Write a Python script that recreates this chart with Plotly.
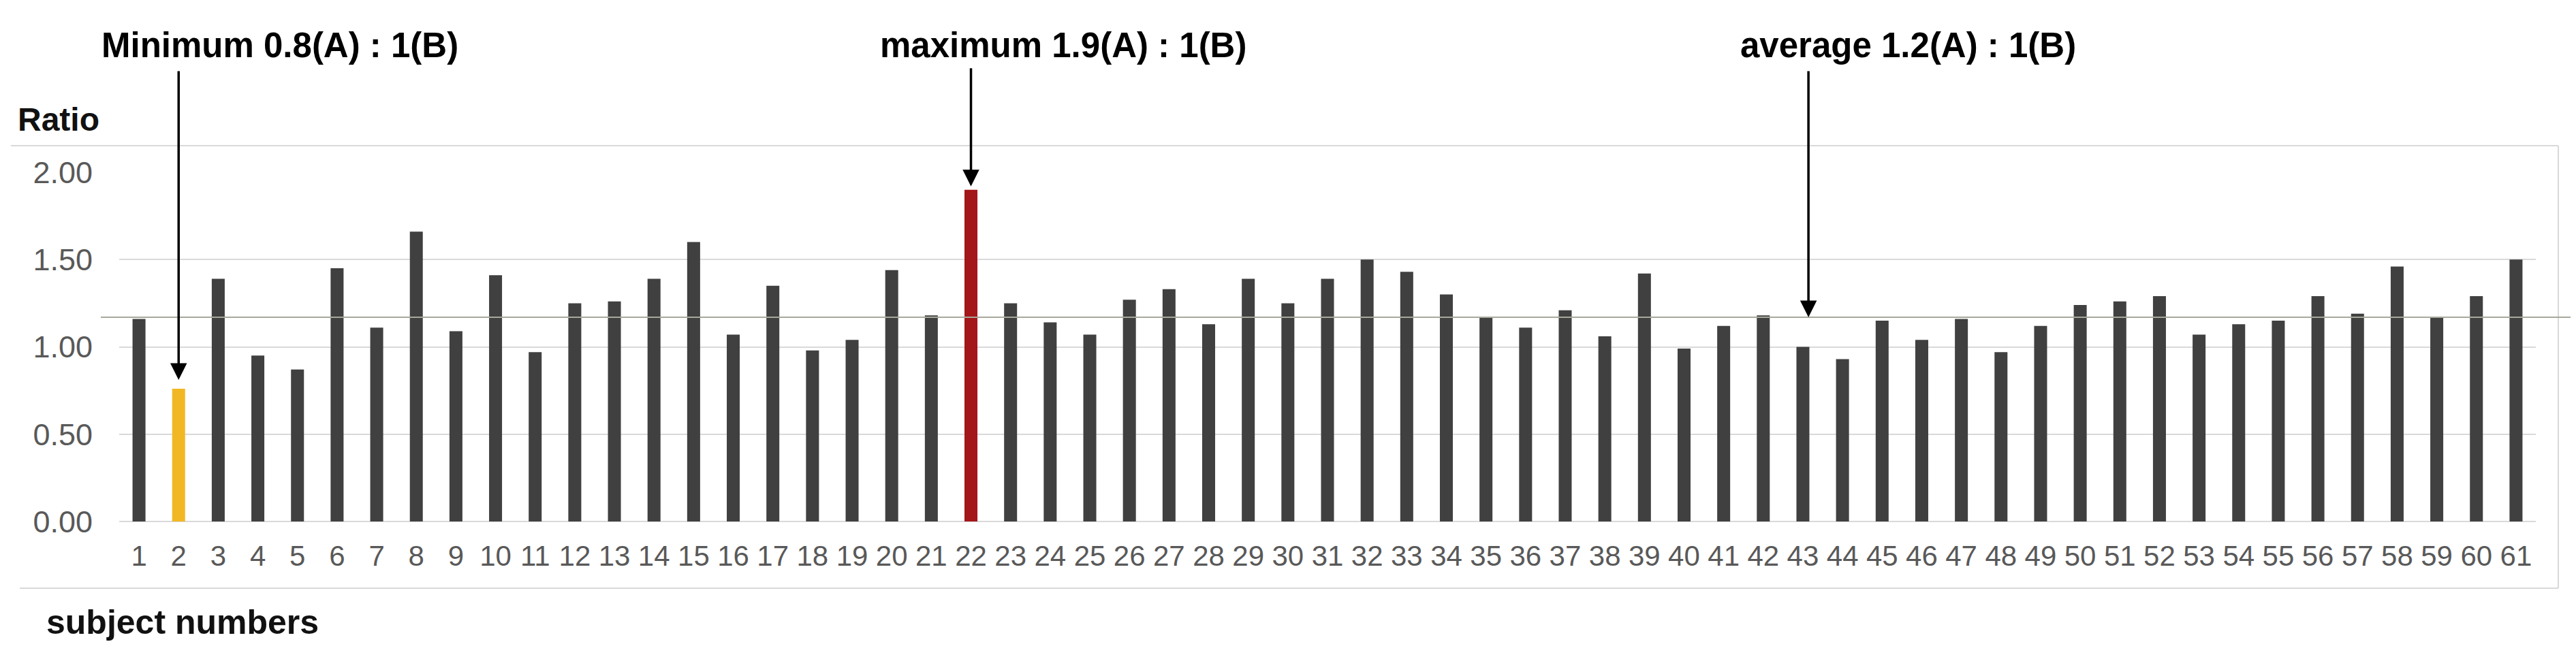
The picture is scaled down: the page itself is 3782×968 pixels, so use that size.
import plotly.graph_objects as go

# ---- data ----
subjects = list(range(1, 62))
ratios = [1.16, 0.76, 1.39, 0.95, 0.87, 1.45, 1.11, 1.66, 1.09, 1.41,
          0.97, 1.25, 1.26, 1.39, 1.60, 1.07, 1.35, 0.98, 1.04, 1.44,
          1.18, 1.90, 1.25, 1.14, 1.07, 1.27, 1.33, 1.13, 1.39, 1.25,
          1.39, 1.50, 1.43, 1.30, 1.17, 1.11, 1.21, 1.06, 1.42, 0.99,
          1.12, 1.18, 1.00, 0.93, 1.15, 1.04, 1.16, 0.97, 1.12, 1.24,
          1.26, 1.29, 1.07, 1.13, 1.15, 1.29, 1.19, 1.46, 1.17, 1.29,
          1.50]
min_subject = 2
max_subject = 22
avg_line = 1.17
avg_arrow_subject = 43.14
y_ticks = [0, 0.5, 1.0, 1.5, 2.0]
label_min = "Minimum 0.8(A) : 1(B)"
label_max = "maximum 1.9(A) : 1(B)"
label_avg = "average 1.2(A) : 1(B)"

# ---- styling / layout ----
OFF = 8  # default page body margin
W, H = 3782 - 2 * OFF, 968 - 2 * OFF
PL, PR, PT, PB = 175, 3723, 253, 766  # plot area in reference pixels
L, R, T, B = PL - OFF, W - (PR - OFF), PT - OFF, H - (PB - OFF)
PW, PH = W - L - R, H - T - B

def px_x(px):
    return (px - OFF - L) / PW

def px_y(py):
    return (H - B - (py - OFF)) / PH

dark = "#404040"
colors = []
for s in subjects:
    if s == min_subject:
        colors.append("#f2b824")
    elif s == max_subject:
        colors.append("#a3161a")
    else:
        colors.append(dark)

FONT = "Liberation Sans, Arial, sans-serif"

fig = go.Figure()
fig.add_trace(go.Bar(x=subjects, y=ratios, marker=dict(color=colors, line=dict(width=0)),
                     showlegend=False))

fig.update_layout(
    width=W, height=H,
    margin=dict(l=L, r=R, t=T, b=B, autoexpand=False),
    paper_bgcolor="white", plot_bgcolor="white",
    bargap=0.673,
    font=dict(family=FONT, color="#595959"),
    xaxis=dict(range=[0.5, 61.5], tickmode="array", tickvals=subjects,
               ticktext=[str(s) for s in subjects], tickfont=dict(size=42, color="#595959"),
               showgrid=False, zeroline=False, showline=False, ticks="",
               ticklabelstandoff=22, fixedrange=True),
    yaxis=dict(range=[0, 2.0], tickmode="array", tickvals=y_ticks,
               ticktext=[f"{v:.2f}" for v in y_ticks], tickfont=dict(size=45, color="#595959"),
               showgrid=True, gridcolor="#d9d9d9", gridwidth=2,
               zeroline=True, zerolinecolor="#d9d9d9", zerolinewidth=2,
               showline=False, ticks="", ticklabelstandoff=38, fixedrange=True),
)

shapes = []
# chart frame (top, right, bottom)
frame_col = "#d9d9d9"
shapes.append(dict(type="line", xref="paper", yref="paper", x0=px_x(16), x1=px_x(3756),
                   y0=px_y(214), y1=px_y(214), line=dict(color=frame_col, width=2)))
shapes.append(dict(type="line", xref="paper", yref="paper", x0=px_x(3756), x1=px_x(3756),
                   y0=px_y(214), y1=px_y(864), line=dict(color=frame_col, width=2)))
shapes.append(dict(type="line", xref="paper", yref="paper", x0=px_x(29), x1=px_x(3756),
                   y0=px_y(864), y1=px_y(864), line=dict(color=frame_col, width=2)))
# average line
shapes.append(dict(type="line", xref="paper", yref="y", x0=px_x(148), x1=px_x(3782),
                   y0=avg_line, y1=avg_line, line=dict(color="#a9a89c", width=2)))
fig.update_layout(shapes=shapes)

ann = []
title_font = dict(family=FONT, size=51, color="#000000")
for text, cx in [(label_min, 411), (label_max, 1561), (label_avg, 2801)]:
    ann.append(dict(text="<b>%s</b>" % text, xref="paper", yref="paper",
                    x=px_x(cx), y=px_y(66), xanchor="center", yanchor="middle",
                    showarrow=False, font=title_font))

ann.append(dict(text="<b>Ratio</b>", xref="paper", yref="paper", x=px_x(24), y=px_y(176),
                xanchor="left", yanchor="middle", showarrow=False,
                font=dict(family=FONT, size=48, color="#111111")))
ann.append(dict(text="<b>subject numbers</b>", xref="paper", yref="paper", x=px_x(66), y=px_y(914),
                xanchor="left", yanchor="middle", showarrow=False,
                font=dict(family=FONT, size=50, color="#111111")))

arrow_style = dict(showarrow=True, arrowhead=2, arrowsize=1.4, arrowwidth=3.5,
                   arrowcolor="#000000", text="", axref="pixel", ayref="pixel")
min_val = ratios[subjects.index(min_subject)]
max_val = ratios[subjects.index(max_subject)]
ann.append(dict(x=min_subject, y=min_val, xref="x", yref="y", ax=0, ay=-468, standoff=13, **arrow_style))
ann.append(dict(x=max_subject, y=max_val, xref="x", yref="y", ax=0, ay=-180, standoff=5, **arrow_style))
ann.append(dict(x=avg_arrow_subject, y=avg_line, xref="x", yref="y", ax=0, ay=-363, standoff=0, **arrow_style))
fig.update_layout(annotations=ann)

fig.write_html("out.html")
